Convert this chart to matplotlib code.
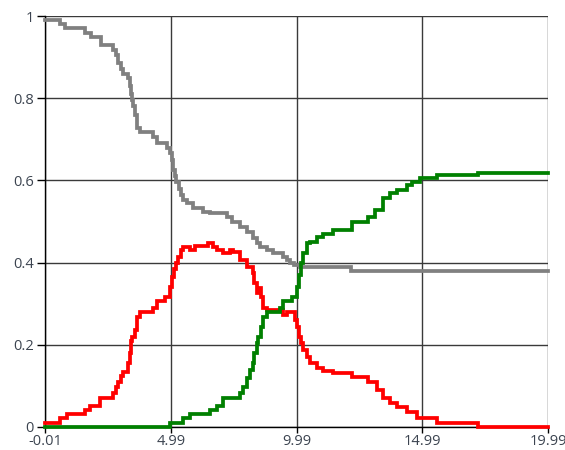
import matplotlib
matplotlib.use("Agg")
import matplotlib.pyplot as plt

# Step series: (x where step starts, value)
gray_x = [-0.01, 0.6, 0.8, 1.6, 1.8, 2.2, 2.7, 2.8, 2.9, 3.0, 3.1, 3.3, 3.35, 3.4, 3.45, 3.5, 3.55,
          3.65, 3.77, 4.28, 4.44, 4.84, 4.96, 5.02, 5.08, 5.14, 5.2, 5.3, 5.38, 5.46, 5.64, 5.87,
          6.27, 6.55, 7.23, 7.43, 7.74, 8.02, 8.26, 8.4, 8.54, 8.82, 9.06, 9.45, 9.6, 9.73, 9.9,
          10.13, 10.4, 12.16]
gray_y = [0.99, 0.98, 0.97, 0.958, 0.95, 0.93, 0.917, 0.905, 0.885, 0.87, 0.86, 0.85, 0.83, 0.81,
          0.795, 0.78, 0.76, 0.728, 0.718, 0.706, 0.69, 0.68, 0.667, 0.65, 0.625, 0.61, 0.595, 0.58,
          0.565, 0.552, 0.545, 0.533, 0.523, 0.52, 0.51, 0.499, 0.487, 0.475, 0.46, 0.448, 0.438,
          0.43, 0.423, 0.414, 0.406, 0.40, 0.394, 0.39, 0.389, 0.38]

red_x = [-0.01, 0.59, 0.86, 1.58, 1.78, 2.18, 2.69, 2.8, 2.89, 3.0, 3.09, 3.29, 3.35, 3.4, 3.45,
         3.55, 3.65, 3.77, 4.28, 4.44, 4.76, 4.96, 5.04, 5.12, 5.2, 5.28, 5.38, 5.48, 5.76, 5.95,
         6.47, 6.67, 6.83, 7.07, 7.35, 7.47, 7.74, 8.02, 8.26, 8.32, 8.4, 8.46, 8.56, 8.66, 8.82,
         9.45, 9.61, 9.93, 10.0, 10.08, 10.16, 10.25, 10.4, 10.53, 10.81, 11.04, 11.44, 12.2,
         12.83, 13.19, 13.43, 13.71, 13.99, 14.38, 14.78, 15.58, 17.21]
red_y = [0.01, 0.022, 0.032, 0.041, 0.051, 0.07, 0.083, 0.097, 0.11, 0.125, 0.134, 0.155, 0.18,
         0.21, 0.22, 0.236, 0.268, 0.28, 0.29, 0.307, 0.317, 0.34, 0.365, 0.385, 0.40, 0.413, 0.43,
         0.438, 0.43, 0.44, 0.447, 0.438, 0.43, 0.423, 0.43, 0.426, 0.406, 0.39, 0.375, 0.35, 0.326,
         0.338, 0.317, 0.29, 0.285, 0.272, 0.28, 0.26, 0.243, 0.22, 0.204, 0.187, 0.17, 0.155,
         0.143, 0.137, 0.131, 0.122, 0.11, 0.09, 0.07, 0.058, 0.049, 0.037, 0.022, 0.01, 0.0]

green_x = [-0.01, 4.96, 5.48, 5.76, 6.55, 6.83, 7.07, 7.74, 7.85, 8.02, 8.15, 8.26, 8.32, 8.4, 8.46,
           8.56, 8.66, 8.82, 9.33, 9.45, 9.81, 10.01, 10.08, 10.16, 10.25, 10.4, 10.53, 10.81,
           11.04, 11.44, 12.2, 12.83, 13.11, 13.43, 13.71, 13.99, 14.38, 14.6, 14.9, 15.58, 17.21]
green_y = [0.0, 0.01, 0.022, 0.032, 0.041, 0.051, 0.07, 0.083, 0.097, 0.12, 0.139, 0.155, 0.18,
           0.204, 0.22, 0.243, 0.268, 0.28, 0.29, 0.307, 0.317, 0.34, 0.37, 0.40, 0.423, 0.447,
           0.45, 0.462, 0.47, 0.48, 0.499, 0.51, 0.528, 0.557, 0.57, 0.577, 0.589, 0.596, 0.607,
           0.613, 0.619]

x_ticks = [-0.01, 4.99, 9.99, 14.99, 19.99]
x_labels = ["-0.01", "4.99", "9.99", "14.99", "19.99"]
y_ticks = [0, 0.2, 0.4, 0.6, 0.8, 1]
y_labels = ["0", "0.2", "0.4", "0.6", "0.8", "1"]
x_end = 19.99

plt.rcParams['font.family'] = ['Open Sans', 'DejaVu Sans']
fig = plt.figure(figsize=(5.65, 4.5), dpi=100)
ax = fig.add_axes([45/565, 1-427/450, (548-45)/565, (427-16)/450])

for xs, ys, c in [(gray_x, gray_y, '#808080'), (red_x, red_y, '#ff0000'), (green_x, green_y, '#008000')]:
    ax.step(xs + [x_end], ys + [ys[-1]], where='post', color=c, lw=2.7, clip_on=False,
            solid_joinstyle='miter', zorder=3)

ax.set_xlim(-0.01, 19.99)
ax.set_ylim(0, 1)
ax.set_xticks(x_ticks)
ax.set_xticklabels(x_labels)
ax.set_yticks(y_ticks)
ax.set_yticklabels(y_labels)
ax.grid(True, color='#3a3a3a', lw=1.0)
ax.set_axisbelow(True)
for s in ['top', 'right']:
    ax.spines[s].set_visible(False)
for s in ['left', 'bottom']:
    ax.spines[s].set_color('#000000')
    ax.spines[s].set_linewidth(1.0)
ax.tick_params(axis='both', width=1, color='#000000', labelsize=10.5,
               labelcolor='#3c4450', pad=2)
ax.tick_params(axis='y', length=6)
ax.tick_params(axis='x', length=4, pad=1)

fig.savefig('out.png', dpi=100)
